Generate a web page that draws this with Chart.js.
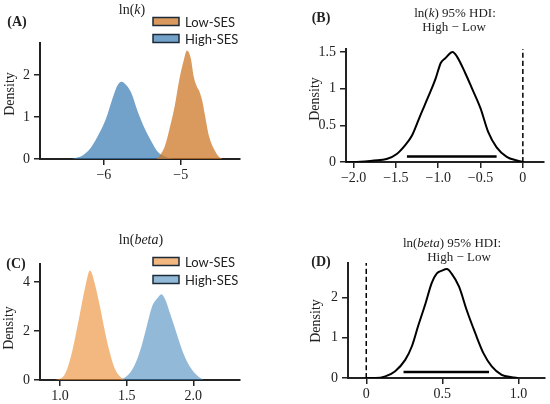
<!DOCTYPE html>
<html lang="en">
<head>
<meta charset="UTF-8">
<title>ln(k) and ln(beta) posteriors</title>
<script src="https://cdn.jsdelivr.net/npm/chart.js"></script>
<style>
    body { margin: 0; background: #fff; }
    #fig { position: relative; width: 550px; height: 404px; overflow: hidden; }
    .panel { position: absolute; }
    .txt {
        position: absolute;
        transform: translate(-50%, -50%);
        font-family: "Liberation Serif", "DejaVu Serif", serif;
        font-size: 14px;
        color: #222;
        white-space: nowrap;
        line-height: 1;
    }
    .tag { font-weight: bold; }
    .ylab { transform: translate(-50%, -50%) rotate(-90deg); }
    .small { font-size: 13px; }
</style>
</head>
<body>
<div id="fig">
    <div class="panel" style="left:0;top:0"><canvas id="chartA" width="275" height="200"></canvas></div>
    <div class="panel" style="left:275px;top:0"><canvas id="chartB" width="275" height="200"></canvas></div>
    <div class="panel" style="left:0;top:200px"><canvas id="chartC" width="275" height="204"></canvas></div>
    <div class="panel" style="left:275px;top:200px"><canvas id="chartD" width="275" height="204"></canvas></div>

    <div class="txt tag" style="left:17px;top:22px">(A)</div>
    <div class="txt" style="left:132px;top:10px">ln(<i>k</i>)</div>
    <div class="txt ylab" style="left:10px;top:94px">Density</div>

    <div class="txt tag" style="left:321px;top:18px">(B)</div>
    <div class="txt small" style="left:455px;top:12px">ln(<i>k</i>) 95% HDI:</div>
    <div class="txt small" style="left:454px;top:26px">High − Low</div>
    <div class="txt ylab" style="left:315px;top:99px">Density</div>

    <div class="txt tag" style="left:16px;top:264px">(C)</div>
    <div class="txt" style="left:141px;top:240px">ln(<i>beta</i>)</div>
    <div class="txt ylab" style="left:9px;top:328px">Density</div>

    <div class="txt tag" style="left:321px;top:262px">(D)</div>
    <div class="txt small" style="left:452px;top:242px">ln(<i>beta</i>) 95% HDI:</div>
    <div class="txt small" style="left:459px;top:256px">High − Low</div>
    <div class="txt ylab" style="left:316px;top:321px">Density</div>
</div>

<script>
// ---- data ----
// (A) ln(k) posterior densities
const kLowX   = [-5.32, -5.28, -5.21, -5.15, -5.08, -5.02, -4.96, -4.92, -4.87, -4.83, -4.79, -4.76, -4.72, -4.69, -4.63, -4.56, -4.50, -4.45];
const kLowY   = [0, 0.06, 0.29, 0.69, 1.25, 1.88, 2.36, 2.58, 2.40, 1.95, 1.72, 1.62, 1.38, 1.09, 0.53, 0.21, 0.05, 0];
const kHighX  = [-6.42, -6.27, -6.16, -6.06, -5.97, -5.88, -5.82, -5.77, -5.71, -5.64, -5.56, -5.47, -5.38, -5.30, -5.19, -5.08];
const kHighY  = [0, 0.09, 0.29, 0.61, 0.97, 1.48, 1.76, 1.84, 1.76, 1.56, 1.13, 0.73, 0.41, 0.17, 0.05, 0];

// (B) ln(k) difference High - Low
const kDiffX  = [-2.09, -2.0, -1.76, -1.61, -1.49, -1.39, -1.31, -1.21, -1.11, -1.03, -0.97, -0.92, -0.83, -0.78, -0.68, -0.60, -0.50, -0.41, -0.31, -0.19, -0.07, 0.0];
const kDiffY  = [0, 0, 0.02, 0.04, 0.11, 0.23, 0.36, 0.64, 0.91, 1.14, 1.35, 1.41, 1.50, 1.44, 1.21, 1.00, 0.73, 0.41, 0.20, 0.07, 0.02, 0];
const kHdi    = [-1.37, -0.31];
const kHdiY   = 0.075;

// (C) ln(beta) posterior densities
const bLowX   = [0.96, 1.025, 1.075, 1.11, 1.15, 1.19, 1.225, 1.26, 1.30, 1.34, 1.375, 1.41, 1.45, 1.49];
const bLowY   = [0, 0.14, 0.82, 1.63, 2.72, 3.81, 4.46, 3.95, 2.99, 1.90, 1.09, 0.48, 0.14, 0];
const bHighX  = [1.45, 1.51, 1.56, 1.61, 1.65, 1.69, 1.73, 1.76, 1.79, 1.825, 1.875, 1.925, 1.975, 2.025, 2.075];
const bHighY  = [0, 0.2, 0.61, 1.36, 2.18, 2.99, 3.33, 3.50, 3.27, 2.72, 1.90, 1.09, 0.54, 0.2, 0];

// (D) ln(beta) difference High - Low
const bDiffX  = [0.0, 0.06, 0.125, 0.19, 0.256, 0.30, 0.34, 0.39, 0.43, 0.464, 0.497, 0.53, 0.56, 0.61, 0.66, 0.716, 0.77, 0.825, 0.89, 0.956, 1.0];
const bDiffY  = [0, 0, 0.04, 0.17, 0.45, 0.79, 1.28, 1.86, 2.36, 2.60, 2.67, 2.71, 2.60, 2.27, 1.69, 1.12, 0.62, 0.29, 0.08, 0.02, 0];
const bHdi    = [0.245, 0.807];
const bHdiY   = 0.15;

// axis ticks
const aXTicks = [-6, -5],            aXLabels = ['−6', '−5'];
const aYTicks = [0, 1, 2],           aYLabels = ['0', '1', '2'];
const bXTicks = [-2, -1.5, -1, -0.5, 0], bXLabels = ['−2.0', '−1.5', '−1.0', '−0.5', '0'];
const bYTicks = [0, 0.5, 1, 1.5],    bYLabels = ['0', '0.5', '1', '1.5'];
const cXTicks = [1, 1.5, 2],         cXLabels = ['1.0', '1.5', '2.0'];
const cYTicks = [0, 2, 4],           cYLabels = ['0', '2', '4'];
const dXTicks = [0, 0.5, 1],         dXLabels = ['0', '0.5', '1.0'];
const dYTicks = [0, 1, 2],           dYLabels = ['0', '1', '2'];

const seriesNames = ['Low-SES', 'High-SES'];

// ---- helpers ----
const zip = (xs, ys) => xs.map((x, i) => ({ x: x, y: ys[i] }));
const tickFont = { family: "'Liberation Serif', 'DejaVu Serif', serif", size: 14 };
const ink = '#222';

// legend drawn as boxes with a dark outline, placed by pixel offset
const boxLegend = {
    id: 'boxLegend',
    afterDraw(chart, args, opts) {
        if (!opts.show) return;
        const ctx = chart.ctx;
        ctx.save();
        ctx.font = '13px Lato';
        ctx.textBaseline = 'middle';
        chart.data.datasets.forEach((ds, i) => {
            if (!ds.legend) return;
            const y = opts.y + i * opts.rowH;
            ctx.fillStyle = ds.backgroundColor;
            ctx.fillRect(opts.x, y - 4, 26, 8);
            ctx.strokeStyle = '#1d2a38';
            ctx.lineWidth = 1.5;
            ctx.strokeRect(opts.x, y - 4, 26, 8);
            ctx.fillStyle = ink;
            ctx.fillText(ds.label, opts.x + 32, y + 1);
        });
        ctx.restore();
    }
};

function axis(min, max, ticks, labels, fitSize, horizontal) {
    return {
        type: 'linear',
        min: min,
        max: max,
        afterBuildTicks: s => { s.ticks = ticks.map(v => ({ value: v })); },
        afterFit: s => { if (horizontal) s.height = fitSize; else s.width = fitSize; },
        ticks: {
            color: ink,
            font: tickFont,
            padding: horizontal ? 2 : 4,
            maxRotation: 0,
            autoSkip: false,
            callback: v => labels[ticks.indexOf(v)]
        },
        grid: { display: true, drawOnChartArea: false, drawTicks: true, tickLength: 6, color: ink, lineWidth: 1.5 },
        border: { display: true, color: ink, width: 2 }
    };
}

function makeChart(id, datasets, pad, xAxis, yAxis, legendPos) {
    return new Chart(document.getElementById(id), {
        type: 'line',
        data: { datasets: datasets },
        plugins: [boxLegend],
        options: {
            responsive: false,
            animation: false,
            layout: { padding: pad },
            elements: { point: { radius: 0 }, line: { cubicInterpolationMode: 'monotone' } },
            scales: { x: xAxis, y: yAxis },
            plugins: {
                legend: { display: false },
                tooltip: { enabled: false },
                boxLegend: legendPos || { show: false }
            }
        }
    });
}

function densityFill(label, xs, ys, color) {
    return { label: label, legend: true, data: zip(xs, ys), backgroundColor: color,
             borderWidth: 0, borderColor: 'rgba(0,0,0,0)', fill: 'origin' };
}

function diffSets(xs, ys, hdi, hdiY, yTop) {
    return [
        { label: 'density', data: zip(xs, ys), borderColor: '#000', borderWidth: 2, fill: false },
        { label: '95% HDI', data: zip(hdi, [hdiY, hdiY]), borderColor: '#000', borderWidth: 2.5, fill: false },
        { label: 'zero', data: zip([0, 0], [0, yTop]), borderColor: '#000', borderWidth: 1.5,
          borderDash: [5, 3], fill: false }
    ];
}

// (A)
makeChart('chartA', [
    densityFill(seriesNames[0], kLowX, kLowY, 'rgba(205,120,40,0.75)'),
    densityFill(seriesNames[1], kHighX, kHighY, 'rgba(60,125,180,0.72)')
], { top: 43, right: 35, left: 0, bottom: 0 },
   axis(-6.83, -4.23, aXTicks, aXLabels, 41, true),
   axis(0, 2.76, aYTicks, aYLabels, 40, false),
   { show: true, x: 153, y: 21.5, rowH: 17 });

// (B)
makeChart('chartB', diffSets(kDiffX, kDiffY, kHdi, kHdiY, 1.54),
   { top: 49, right: 6, left: 0, bottom: 0 },
   axis(-2.09, 0.25, bXTicks, bXLabels, 38, true),
   axis(0, 1.54, bYTicks, bYLabels, 71, false));

// (C)
makeChart('chartC', [
    densityFill(seriesNames[0], bLowX, bLowY, 'rgba(235,140,50,0.62)'),
    densityFill(seriesNames[1], bHighX, bHighY, 'rgba(60,130,185,0.56)')
], { top: 64, right: 35, left: 0, bottom: 0 },
   axis(0.85, 2.35, cXTicks, cXLabels, 24, true),
   axis(0, 4.73, cYTicks, cYLabels, 40, false),
   { show: true, x: 153, y: 61.5, rowH: 18 });

// (D)
makeChart('chartD', diffSets(bDiffX, bDiffY, bHdi, bHdiY, 2.86),
   { top: 63, right: 5, left: 0, bottom: 0 },
   axis(-0.12, 1.175, dXTicks, dXLabels, 26, true),
   axis(0, 2.86, dYTicks, dYLabels, 73, false));
</script>
</body>
</html>
